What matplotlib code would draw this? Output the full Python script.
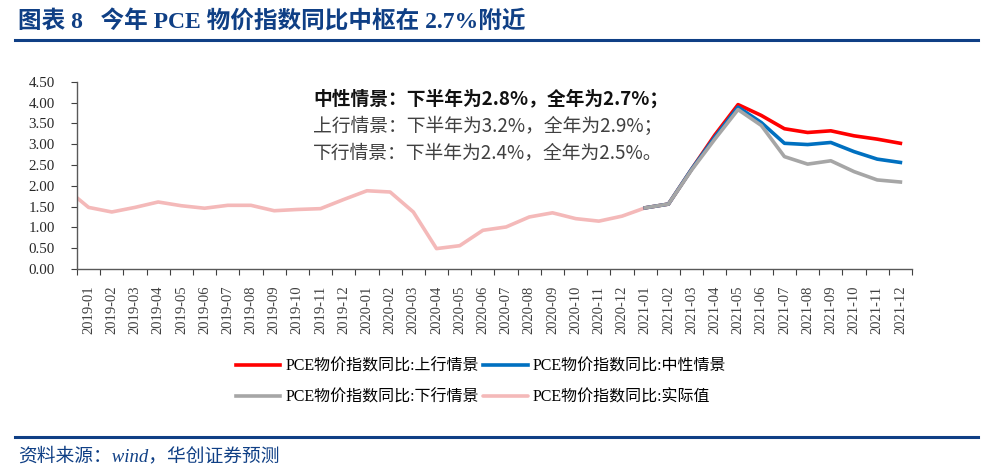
import matplotlib
matplotlib.use('Agg')
import matplotlib.pyplot as plt
import numpy as np

# ---------------- data ----------------
months = ['2018-12',
          '2019-01', '2019-02', '2019-03', '2019-04', '2019-05', '2019-06',
          '2019-07', '2019-08', '2019-09', '2019-10', '2019-11', '2019-12',
          '2020-01', '2020-02', '2020-03', '2020-04', '2020-05', '2020-06',
          '2020-07', '2020-08', '2020-09', '2020-10', '2020-11', '2020-12',
          '2021-01', '2021-02', '2021-03', '2021-04', '2021-05', '2021-06',
          '2021-07', '2021-08', '2021-09', '2021-10', '2021-11', '2021-12']

# actual values 2018-12 .. 2021-01
actual = [1.94,
          1.48, 1.37, 1.48, 1.61, 1.52, 1.46, 1.53, 1.53, 1.40, 1.43, 1.45, 1.67,
          1.88, 1.85, 1.37, 0.49, 0.56, 0.93, 1.01, 1.25, 1.35, 1.21, 1.15, 1.27,
          1.47]

# scenarios 2021-01 .. 2021-12
upside   = [1.47, 1.56, 2.40, 3.22, 3.95, 3.69, 3.37, 3.28, 3.32, 3.20, 3.12, 3.02]
neutral  = [1.47, 1.56, 2.40, 3.17, 3.89, 3.52, 3.02, 2.99, 3.04, 2.82, 2.64, 2.56]
downside = [1.47, 1.56, 2.38, 3.12, 3.83, 3.45, 2.70, 2.52, 2.60, 2.34, 2.14, 2.09]

yticks = [0.0, 0.5, 1.0, 1.5, 2.0, 2.5, 3.0, 3.5, 4.0, 4.5]

labels = ['PCE物价指数同比:上行情景', 'PCE物价指数同比:中性情景',
          'PCE物价指数同比:下行情景', 'PCE物价指数同比:实际值']

title = '图表 8   今年 PCE 物价指数同比中枢在 2.7%附近'
source = '资料来源：wind，华创证券预测'
notes = ['中性情景：下半年为2.8%，全年为2.7%；',
         '上行情景：下半年为3.2%，全年为2.9%；',
         '下行情景：下半年为2.4%，全年为2.5%。']

# ---------------- style ----------------
SERIF = ['Liberation Serif', 'Noto Sans CJK SC']
CJK = ['Noto Sans CJK SC', 'DejaVu Sans']
NAVY = '#0F3F85'
C_UP, C_MID, C_DN, C_ACT = '#FF0000', '#0070C0', '#A6A6A6', '#F4B9B9'

fig = plt.figure(figsize=(9.94, 4.74), dpi=100)
W, H = 994, 474
ax = fig.add_axes([77 / W, 1 - 269 / H, (912 - 77) / W, (269 - 81.7) / H])

x_all = np.arange(len(months))
start = months.index('2021-01')
x_act = x_all[:len(actual)]
x_sc = x_all[start:start + len(upside)]

lw = 2.6
l_act, = ax.plot(x_act, actual, color=C_ACT, lw=lw, solid_capstyle='round', zorder=2)
l_up, = ax.plot(x_sc, upside, color=C_UP, lw=lw, zorder=3)
l_mid, = ax.plot(x_sc, neutral, color=C_MID, lw=lw, zorder=4)
l_dn, = ax.plot(x_sc, downside, color=C_DN, lw=lw, zorder=5)

ax.set_xlim(0.5, len(months) - 0.5)
ax.set_ylim(0, 4.5)
ax.set_yticks(yticks)
ax.set_yticklabels([f'{v:.2f}' for v in yticks], family=SERIF, fontsize=10.8,
                   color='#262626')

ax.set_xticks(x_all[1:])
ax.set_xticklabels(months[1:], rotation=90, family=SERIF, fontsize=10.5, color='#404040')
ax.set_xticks(np.arange(0.5, len(months), 1.0), minor=True)
ax.tick_params(axis='x', which='major', length=0, pad=12)
ax.tick_params(axis='x', which='minor', length=4, width=0.8, color='#404040')
ax.tick_params(axis='y', length=4, width=0.8, color='#404040', pad=12)

for s in ['top', 'right']:
    ax.spines[s].set_visible(False)
for s in ['left', 'bottom']:
    ax.spines[s].set_color('#595959')
    ax.spines[s].set_linewidth(1.0)

# annotation text
ax.text(313 / W, 1 - 99 / H, notes[0], transform=fig.transFigure, family=CJK,
        fontsize=13.5, fontweight='bold', color='#111111', va='center', ha='left')
ax.text(313 / W, 1 - 126 / H, notes[1], transform=fig.transFigure, family=CJK,
        fontsize=13.5, color='#404040', va='center', ha='left')
ax.text(313 / W, 1 - 153 / H, notes[2], transform=fig.transFigure, family=CJK,
        fontsize=13.5, color='#404040', va='center', ha='left')

# legend
leg = fig.legend([l_up, l_dn, l_mid, l_act], [labels[0], labels[2], labels[1], labels[3]],
                 ncol=2, loc='center', bbox_to_anchor=(481 / W, 1 - 382 / H),
                 frameon=False, prop={'family': SERIF, 'size': 11.5},
                 handlelength=2.8, handletextpad=0.3, columnspacing=0.3,
                 labelspacing=0.9)

# title and rules
fig.text(18 / W, 1 - 21 / H, title, family=SERIF, fontsize=17, fontweight='bold',
         color=NAVY, va='center', ha='left')
fig.add_artist(plt.Line2D([15 / W, 978 / W], [1 - 39.5 / H, 1 - 39.5 / H],
                          color=NAVY, lw=2.2, transform=fig.transFigure))
fig.add_artist(plt.Line2D([15 / W, 978 / W], [1 - 437 / H, 1 - 437 / H],
                          color=NAVY, lw=2.2, transform=fig.transFigure))
fig.text(18 / W, 1 - 456 / H, source, family=SERIF, fontsize=13.5, style='italic',
         color=NAVY, va='center', ha='left')

fig.savefig('out.png', dpi=100)
